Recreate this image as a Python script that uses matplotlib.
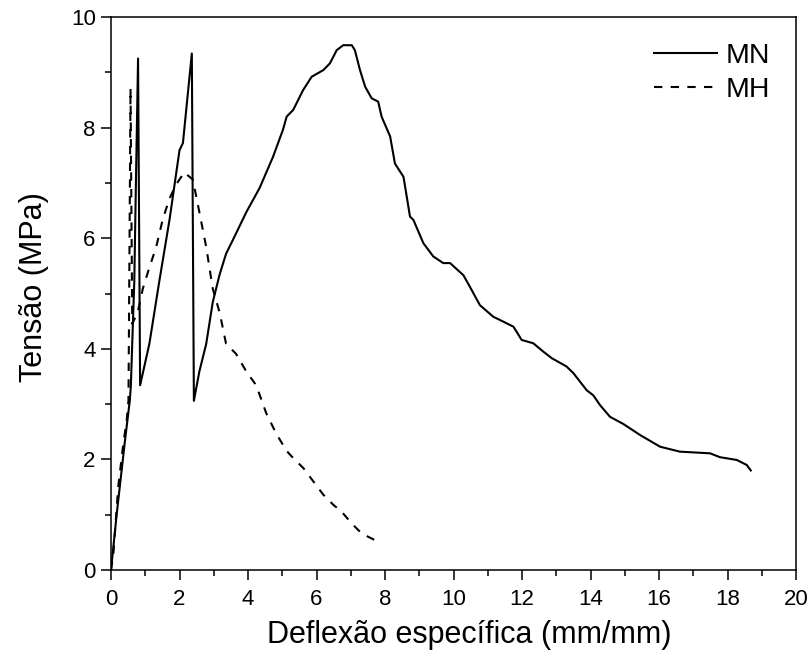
import matplotlib
matplotlib.use("Agg")
import matplotlib.pyplot as plt
from matplotlib.ticker import MultipleLocator

plt.rcParams['font.family'] = ['Liberation Sans', 'DejaVu Sans']

# MN (solid)
mn_x = [0, 0.17, 0.41, 0.55, 0.58, 0.68, 0.73, 0.79, 0.85, 1.12, 1.41, 1.71,
        2.00, 2.10, 2.36, 2.42, 2.58, 2.78, 2.97, 3.17, 3.36, 3.56, 3.95, 4.34,
        4.73, 5.02, 5.13, 5.32, 5.61, 5.86, 6.20, 6.39, 6.59, 6.78, 7.03, 7.12,
        7.27, 7.42, 7.61, 7.80, 7.90, 8.15, 8.29, 8.54, 8.73, 8.83, 9.12, 9.41,
        9.70, 9.90, 10.29, 10.48, 10.77, 11.16, 11.36, 11.75, 11.99, 12.33,
        12.62, 12.87, 13.30, 13.50, 13.89, 14.08, 14.28, 14.57, 14.96, 15.45,
        16.03, 16.61, 17.49, 17.78, 18.27, 18.56, 18.68]
mn_y = [0, 1.03, 2.35, 3.07, 3.34, 5.22, 7.09, 9.25, 3.34, 4.09, 5.22, 6.34,
        7.59, 7.72, 9.34, 3.06, 3.59, 4.09, 4.84, 5.34, 5.72, 5.97, 6.47, 6.91,
        7.47, 7.96, 8.20, 8.32, 8.68, 8.92, 9.04, 9.16, 9.40, 9.49, 9.49, 9.40,
        9.04, 8.74, 8.53, 8.47, 8.20, 7.84, 7.35, 7.11, 6.39, 6.33, 5.91, 5.67,
        5.55, 5.55, 5.33, 5.12, 4.79, 4.58, 4.52, 4.40, 4.16, 4.10,
        3.95, 3.83, 3.68, 3.56, 3.25, 3.16, 2.98, 2.77, 2.64, 2.44,
        2.23, 2.14, 2.11, 2.04, 1.99, 1.90, 1.80]

# MH (dashed)
mh_x = [0, 0.07, 0.21, 0.36, 0.46, 0.51, 0.54, 0.57, 0.62, 0.78, 0.93, 1.12,
        1.32, 1.51, 1.71, 1.90, 2.14, 2.39, 2.58, 2.78, 2.97, 3.17, 3.36, 3.65,
        3.95, 4.24, 4.53, 4.82, 5.12, 5.28, 5.62, 5.91, 6.20, 6.49, 6.74, 7.03,
        7.32, 7.80]
mh_y = [0, 0.30, 1.50, 2.29, 2.71, 3.07, 5.84, 8.71, 4.45, 4.66, 5.09, 5.47,
        5.84, 6.34, 6.72, 6.97, 7.19, 7.06, 6.47, 5.84, 5.09, 4.66, 4.09, 3.91,
        3.59, 3.34, 2.84, 2.47, 2.16, 2.05, 1.84, 1.60, 1.36, 1.18, 1.05, 0.84,
        0.66, 0.51]

x_ticks = [0, 2, 4, 6, 8, 10, 12, 14, 16, 18, 20]
y_ticks = [0, 2, 4, 6, 8, 10]

fig = plt.figure(figsize=(8.11, 6.59), dpi=100)
ax = fig.add_axes([111/811, 1-570/659, (796-111)/811, (570-17)/659])

ax.plot(mn_x, mn_y, color='black', lw=1.5, label='MN')
ax.plot(mh_x, mh_y, color='black', lw=1.5, dashes=(4, 4), label='MH')

ax.set_xlim(0, 20)
ax.set_ylim(0, 10)
ax.set_xticks(x_ticks)
ax.set_yticks(y_ticks)
ax.xaxis.set_minor_locator(MultipleLocator(1))
ax.yaxis.set_minor_locator(MultipleLocator(1))
ax.tick_params(which='major', direction='out', length=7, width=1.1, labelsize=16)
ax.tick_params(axis='x', which='major', pad=7)
ax.tick_params(axis='y', which='major', pad=4)
ax.tick_params(which='minor', direction='out', length=4, width=1.1)
for s in ax.spines.values():
    s.set_linewidth(1.1)

ax.set_xlabel('Deflexão específica (mm/mm)', fontsize=22, labelpad=7)
ax.xaxis.label.set_x((469 - 111) / 685)
ax.set_ylabel('Tensão (MPa)', fontsize=22, labelpad=16)
ax.yaxis.label.set_y((570 - 287) / 553)

ax.legend(loc='upper right', frameon=False, fontsize=20.5, handlelength=2.2,
          handletextpad=0.32, labelspacing=0.3, bbox_to_anchor=(1.0, 1.0))

fig.savefig('out.png', dpi=100)
